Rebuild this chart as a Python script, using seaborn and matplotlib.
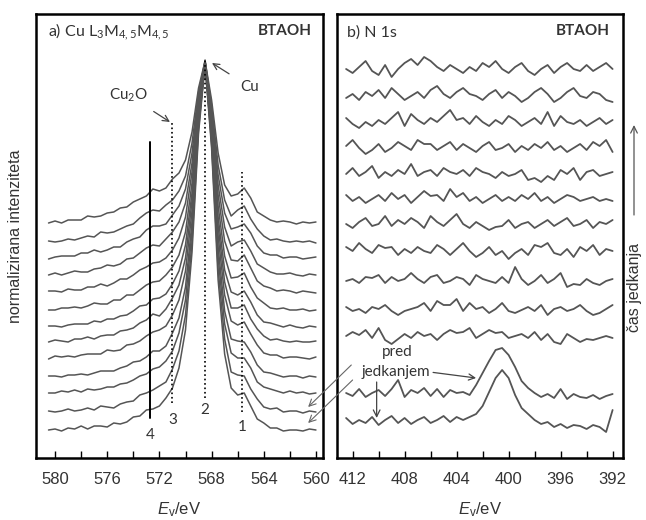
import numpy as np
import pandas as pd
import matplotlib
matplotlib.use("Agg")
import matplotlib.pyplot as plt
from matplotlib.ticker import MultipleLocator, StrMethodFormatter
import seaborn as sns

# ---- data ----
# energy grids (eV), 0.5 eV steps
cu_energy = np.arange(580.5, 559.9, -0.5)
n_energy = np.arange(412.5, 391.9, -0.5)

# Cu L3M45M45 spectra, stacked and normalised, bottom (before etching) -> top
cu_curves = [
    [28, 29, 27, 30, 29, 32, 29, 32, 32, 31, 35, 34, 36, 41, 42, 48, 49, 52, 60, 70,
     90, 128, 206, 325, 393, 310, 178, 104, 70, 63, 65, 52, 39, 35, 30, 30, 27, 28, 28, 27, 29, 28],
    [47, 46, 47, 49, 47, 48, 50, 48, 52, 51, 50, 54, 56, 57, 63, 65, 68, 72, 76, 89,
     107, 143, 216, 329, 395, 314, 189, 119, 86, 83, 82, 69, 59, 51, 49, 50, 46, 47, 47, 45, 47, 46],
    [65, 65, 67, 66, 68, 66, 69, 68, 69, 71, 71, 74, 75, 78, 82, 84, 89, 91, 97, 107,
     125, 158, 227, 333, 394, 318, 201, 134, 105, 100, 100, 90, 76, 71, 69, 67, 65, 67, 65, 66, 64, 65],
    [82, 82, 81, 83, 83, 84, 83, 85, 87, 87, 87, 90, 92, 96, 97, 101, 107, 107, 112, 125,
     140, 171, 236, 337, 396, 322, 211, 147, 119, 117, 116, 106, 93, 86, 85, 83, 81, 82, 82, 80, 82, 81],
    [99, 102, 101, 102, 101, 103, 104, 104, 104, 108, 107, 108, 113, 114, 117, 122, 126, 128, 132, 143,
     158, 187, 247, 341, 395, 327, 222, 163, 137, 133, 136, 124, 113, 105, 103, 103, 100, 101, 101, 100, 99, 101],
    [116, 118, 117, 116, 119, 119, 121, 119, 122, 123, 123, 127, 128, 130, 135, 138, 144, 142, 149, 160,
     173, 200, 257, 344, 397, 330, 232, 176, 150, 150, 153, 139, 129, 122, 118, 119, 117, 116, 117, 116, 116, 117],
    [132, 132, 131, 133, 134, 134, 134, 137, 136, 139, 139, 142, 143, 147, 152, 153, 159, 160, 164, 174,
     187, 213, 265, 348, 396, 334, 241, 188, 166, 163, 167, 156, 143, 136, 135, 133, 131, 133, 131, 130, 132, 131],
    [148, 148, 150, 150, 151, 150, 152, 155, 154, 154, 158, 158, 163, 163, 168, 173, 176, 177, 183, 191,
     203, 226, 275, 351, 394, 338, 252, 202, 180, 181, 185, 171, 160, 155, 150, 149, 150, 148, 148, 149, 147, 148],
    [167, 167, 166, 169, 168, 168, 171, 171, 174, 172, 175, 179, 179, 183, 188, 191, 195, 196, 200, 208,
     220, 241, 286, 355, 397, 342, 263, 217, 198, 197, 203, 190, 177, 172, 170, 167, 168, 167, 165, 167, 166, 165],
    [183, 185, 183, 185, 187, 186, 186, 189, 190, 193, 192, 194, 199, 200, 205, 210, 213, 212, 219, 226,
     236, 255, 295, 359, 395, 346, 273, 231, 212, 216, 218, 207, 194, 190, 186, 184, 184, 185, 183, 182, 184, 183],
    [199, 201, 202, 202, 202, 205, 205, 208, 206, 208, 211, 211, 216, 219, 221, 228, 232, 232, 234, 243,
     252, 269, 305, 362, 398, 349, 283, 245, 229, 231, 234, 225, 212, 205, 203, 203, 200, 201, 201, 199, 200, 201],
    [217, 216, 217, 219, 218, 220, 222, 221, 226, 225, 226, 229, 232, 234, 240, 245, 248, 247, 253, 258,
     267, 282, 315, 366, 396, 353, 293, 258, 242, 248, 252, 239, 229, 222, 218, 219, 217, 216, 217, 216, 217, 215],
    [235, 237, 235, 238, 238, 238, 242, 241, 242, 245, 246, 250, 251, 256, 259, 262, 269, 267, 270, 279,
     285, 298, 326, 370, 397, 358, 305, 273, 262, 264, 270, 260, 246, 242, 238, 236, 237, 236, 234, 236, 235, 236],
]

# N 1s spectra: vertical offsets and signal around each offset, bottom -> top
n_offsets = [38, 65, 122, 149, 177, 207, 234, 259, 284, 310, 336, 362, 389]
n_signal = [
    [2, -4, 0, -3, 3, -5, 0, 4, -3, 2, -4, 0, 3, -3, 0, 4, -2, 3,
     0, 3, 6, 14, 28, 42, 50, 42, 25, 12, 6, 0, -4, -2, -7, -4, -8, -5, -6, -9, -5, -7, -12, 10],
    [0, -3, 4, -4, 0, 3, -3, 4, 13, -4, 3, 0, 5, -3, 4, -4, 3, 0,
     1, -2, 8, 20, 32, 43, 45, 38, 26, 12, 5, 0, -4, -1, -5, 4, -6, -1, -4, -5, -2, -6, -3, -1],
    [0, 4, 1, 6, -2, 8, -4, -8, -3, 2, -2, 4, 0, 2, -4, 2, 6, 3, 4, 8,
     -2, 2, 6, 3, 4, -2, 0, 2, -2, 4, -4, 2, -6, -8, 2, -2, -6, -3, -4, -2, 0, -2],
    [2, -2, 0, -4, 2, 0, 4, -2, -6, -2, 0, 2, 6, -2, 8, 4, 4, 10, -2, 6,
     0, 2, -4, 0, 6, -2, -4, -1, 2, -2, 4, -6, 0, 2, -2, 0, 4, -2, -6, -4, 0, 4],
    [0, 2, -2, 4, 3, 6, -2, 4, 0, 2, 8, 2, -2, 4, 6, -2, 0, 4, 2, -4,
     6, 2, 0, -2, 4, -2, 14, 2, -4, 0, 6, -2, 2, 8, -6, -3, -4, 2, -2, -4, 0, 2],
    [4, 0, 8, 2, -2, 6, 3, 4, -4, 2, -2, 4, 0, -2, 6, 2, -4, 2, 8, 0,
     -6, -2, 4, -4, 0, -8, -2, 2, -4, 6, 4, 8, -2, -4, 2, -6, 4, 0, 6, -4, 2, 0],
    [0, -4, 2, 6, -2, 0, 8, -2, 4, 0, 6, 2, -4, 8, 2, -2, 4, 10, 0, -4,
     2, -2, -6, -3, -2, 4, -4, 0, 2, -4, 0, 4, -2, 2, 6, -2, 0, 4, -4, 2, 0, 4],
    [4, -2, 2, -4, 0, 4, -2, 6, 0, 4, -4, 2, 8, 3, 4, -2, 10, 2, 6, -2,
     2, -4, 0, 4, -2, 2, -2, 4, 0, 6, -2, 2, -4, 0, 4, 2, -2, 0, 2, -2, 0, -2],
    [0, 6, -2, 2, 8, -4, 2, -2, 4, 0, 10, -2, 2, 4, -2, 6, 2, 0, 4, -2,
     6, 2, 0, -4, 2, -2, 0, 4, -6, -4, -8, -2, -6, 4, 0, 6, -6, 2, 4, -2, 0, 2],
    [2, 8, 0, -6, -2, 4, -4, 0, 6, 2, -2, 8, 4, 4, -2, 2, 6, -2, 4, 0,
     -4, 2, 6, -2, 0, 4, -4, 2, -2, 4, 0, 6, -2, 2, -4, 0, 4, -2, 6, 2, 8, -4],
    [4, -2, -6, 0, -4, 2, -2, 4, 10, -4, 8, 2, -2, 4, 0, 6, 12, 2, 4, -2,
     6, 0, -4, 2, -2, 6, 2, -4, 0, 4, -2, 10, -4, 6, 0, -2, 2, -4, 0, 4, -2, 2],
    [-2, 2, -4, 4, 0, 6, -2, 8, 2, -4, 0, 4, -2, 6, 10, 2, -2, 4, 8, 2,
     0, -4, 2, 6, -2, 4, 0, -6, -2, 4, 8, 2, -6, -2, 4, 8, 0, -2, 4, 2, -4, -6],
    [0, -4, 2, 8, -2, -6, 4, -8, 0, 6, 10, 4, 12, 8, 2, -2, 4, 0, -4, 2,
     -2, 6, 2, 8, 0, -4, 2, 6, -2, -6, 0, 4, -4, 2, 6, 0, -2, 4, -2, 2, 6, 0],
]

# reference lines in panel a)
marker_energy = [565.65, 568.5, 571.0, 572.7]
marker_labels = ["1", "2", "3", "4"]
marker_top = [286, 400, 335, 316]
marker_bottom = [46, 60, 55, 40]
marker_label_y = [31, 48, 38, 23]
marker_style = [":", ":", ":", "-"]

# ---- style ----
sns.set_theme(style="white")
plt.rcParams["font.family"] = ["Liberation Sans", "DejaVu Sans"]
plt.rcParams["mathtext.fontset"] = "custom"
plt.rcParams["mathtext.rm"] = "Liberation Sans"
plt.rcParams["mathtext.it"] = "Liberation Sans:italic"
plt.rcParams["mathtext.bf"] = "Liberation Sans:bold"
plt.rcParams["mathtext.default"] = "regular"

line_color = "#555555"
text_color = "#333333"
note_font = "Lato"

fig = plt.figure(figsize=(6.46, 5.2), dpi=100)
ax1 = fig.add_axes([36 / 646, 62 / 520, 287 / 646, 444 / 520])
ax2 = fig.add_axes([337 / 646, 62 / 520, 286 / 646, 444 / 520])

# long tables for seaborn
cu_df = pd.DataFrame(
    [(i, e, v) for i, vals in enumerate(cu_curves) for e, v in zip(cu_energy, vals)],
    columns=["curve", "E", "I"])
n_df = pd.DataFrame(
    [(i, e, off + v) for i, (off, vals) in enumerate(zip(n_offsets, n_signal))
     for e, v in zip(n_energy, vals)],
    columns=["curve", "E", "I"])

sns.lineplot(data=cu_df, x="E", y="I", units="curve", estimator=None,
             color=line_color, lw=1.1, ax=ax1)
sns.lineplot(data=n_df, x="E", y="I", units="curve", estimator=None,
             color=line_color, lw=1.3, ax=ax2)

ax1.set_xlim(581.46, 559.46)
ax2.set_xlim(413.2, 391.2)

for ax in (ax1, ax2):
    ax.set_ylim(0, 444)
    ax.set_yticks([])
    ax.set_ylabel("")
    ax.xaxis.set_major_locator(MultipleLocator(4))
    ax.xaxis.set_minor_locator(MultipleLocator(2))
    ax.xaxis.set_major_formatter(StrMethodFormatter("{x:.0f}"))
    ax.tick_params(axis="x", which="both", direction="in", length=5, width=1,
                   bottom=True, top=False, color="black", labelcolor=text_color,
                   labelsize=12, pad=10)
    for s in ax.spines.values():
        s.set_linewidth(1.8)
        s.set_color("black")
    ax.set_xlabel(r"$\mathit{E}_{v}$/eV", fontsize=12, color=text_color, labelpad=10)

ax1.set_ylabel("normalizirana intenziteta", fontsize=11.5, color=text_color, labelpad=9)

# marker lines in panel a)
for e, lab, top, bot, ly, ls in zip(marker_energy, marker_labels, marker_top,
                                    marker_bottom, marker_label_y, marker_style):
    ax1.plot([e, e], [bot, top], color="black", ls=ls, lw=1.4 if ls == "-" else 1.2)
    ax1.text(e, ly, lab, ha="center", va="center", fontsize=11,
             family=note_font, color=text_color)

# panel labels
ax1.text(0.042, 0.959, r"a) Cu L$_3$M$_{4,5}$M$_{4,5}$", transform=ax1.transAxes,
         ha="left", va="center", fontsize=11.5, family=note_font, color=text_color)
ax1.text(0.962, 0.961, "BTAOH", transform=ax1.transAxes, ha="right", va="center",
         fontsize=11, weight="bold", family=note_font, color=text_color)
ax2.text(0.035, 0.959, "b) N 1s", transform=ax2.transAxes, ha="left", va="center",
         fontsize=11.5, family=note_font, color=text_color)
ax2.text(0.955, 0.961, "BTAOH", transform=ax2.transAxes, ha="right", va="center",
         fontsize=11, weight="bold", family=note_font, color=text_color)

arrow = dict(arrowstyle="->", color="#444444", lw=0.9, shrinkA=0, shrinkB=0)

ax1.annotate(r"Cu$_2$O", xy=(571.19, 336), xytext=(574.4, 363), ha="center", va="center",
             fontsize=11, family=note_font, color=text_color,
             arrowprops=dict(arrow, shrinkA=6))
ax1.annotate("Cu", xy=(567.97, 395), xytext=(565.06, 371), ha="center", va="center",
             fontsize=11, family=note_font, color=text_color,
             arrowprops=dict(arrow, shrinkA=7))

# panel b) notes
ax2.text(408.6, 106, "pred", ha="center", va="center", fontsize=11,
         family=note_font, color=text_color)
ax2.annotate("jedkanjem", xy=(402.5, 80), xytext=(408.7, 86), ha="center", va="center",
             fontsize=11, family=note_font, color=text_color,
             arrowprops=dict(arrow, shrinkA=0, relpos=(1.0, 0.5)))
ax2.annotate("", xy=(410.15, 40), xytext=(410.15, 76), arrowprops=arrow)

# arrows across the panels to the last spectra in a)
ax2.annotate("", xy=(560.6, 51), xycoords=ax1.transData, xytext=(412.1, 93),
             textcoords="data", arrowprops=dict(arrow, lw=0.8, color="#666666"),
             annotation_clip=False)
ax2.annotate("", xy=(560.6, 35), xycoords=ax1.transData, xytext=(412.0, 78),
             textcoords="data", arrowprops=dict(arrow, lw=0.8, color="#666666"),
             annotation_clip=False)

# etching time label on the right
fig.text(635 / 646, 1 - 287 / 520, "čas jedkanja", rotation=90, ha="center", va="center",
         fontsize=11.5, color=text_color)
ax2.annotate("", xy=(634 / 646, 1 - 125 / 520), xycoords="figure fraction",
             xytext=(634 / 646, 1 - 215 / 520), textcoords="figure fraction",
             arrowprops=dict(arrow, color="#555555"), annotation_clip=False)

fig.savefig("out.png", dpi=100)
